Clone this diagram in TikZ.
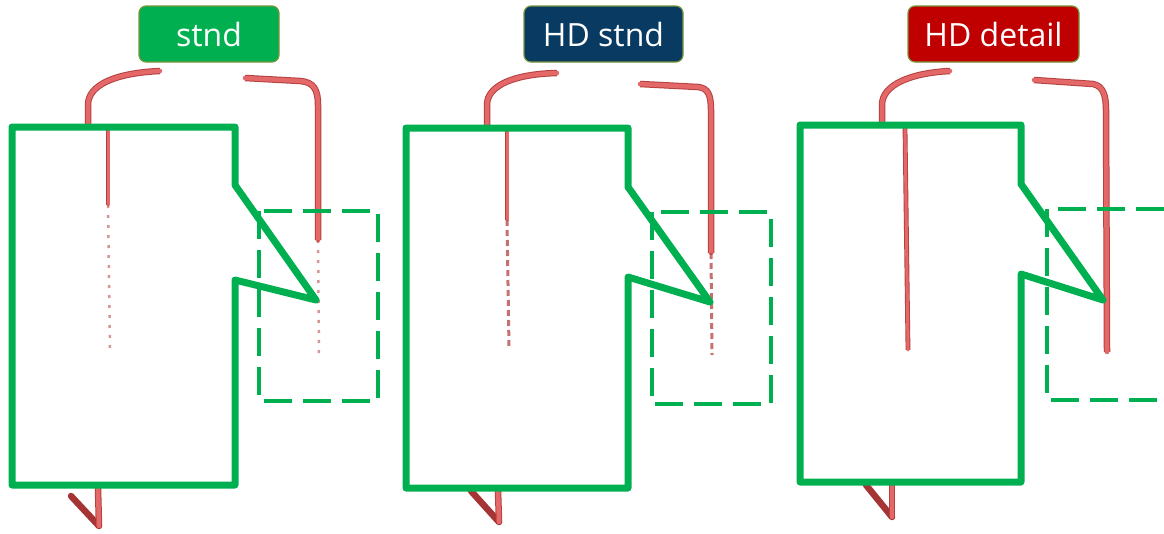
\documentclass[tikz,border=0pt]{standalone}
\usepackage{fontspec}
\setmainfont{Open Sans}
\definecolor{gr}{RGB}{0,176,80}
\definecolor{wlight}{RGB}{228,104,104}
\definecolor{wdark}{RGB}{180,64,64}
\definecolor{hook}{RGB}{165,52,52}
\definecolor{olv}{RGB}{120,150,60}
\definecolor{tgreen}{RGB}{0,176,80}
\definecolor{tnavy}{RGB}{8,58,98}
\definecolor{tred}{RGB}{192,0,0}
\tikzset{
  gbox/.style={draw=gr, line width=7pt, line join=round},
  dbox/.style={draw=gr, line width=3.5pt, dash pattern=on 28pt off 11pt},
  wire/.style={line cap=round, line join=round, draw=wlight, line width=4.5pt,
               preaction={draw=wdark, line width=6.5pt}},
  iwire/.style={line cap=round, draw=wlight, line width=3pt,
               preaction={draw=wdark, line width=4.8pt}},
  hookwire/.style={line cap=round, draw=hook, line width=6.5pt},
  wdots/.style={draw=wdark, line width=2.5pt, dash pattern=on 3pt off 7pt, opacity=0.55},
  wdash/.style={draw=wdark, line width=3pt, dash pattern=on 6pt off 4pt, opacity=0.75},
  tag/.style={rounded corners=7pt, draw=olv, line width=1.2pt, text=white,
              font=\fontsize{32}{32}\selectfont, minimum height=56pt, inner sep=0pt}
}
\begin{document}
\begin{tikzpicture}[x=1pt,y=-1pt]
\useasboundingbox (0,0) rectangle (1164,533);

% ---------- Panel 1 (stnd) ----------
\coordinate (a1) at (160,71);
\coordinate (a2) at (88,128);
\draw[wire] (a1) .. controls (115,73) and (88,85) .. (88,105) -- (a2);
\coordinate (b1) at (245,78);
\coordinate (b2) at (318,240);
\coordinate (b3) at (319,358);
\draw[wire] (b1) -- (300,81) .. controls (314,82) and (318,90) .. (318,105) -- (b2);
\draw[wdots] (b2) -- (b3);
\coordinate (c1) at (108,130);
\coordinate (c2) at (108,205);
\coordinate (c3) at (110,350);
\draw[iwire] (c1) -- (c2);
\draw[wdots] (c2) -- (c3);
\coordinate (h1) at (98,488);
\coordinate (h2) at (99,526);
\coordinate (h3) at (71,496);
\draw[hookwire] (h3) -- (h2);
\draw[wire] (h1) -- (h2);

\draw[gbox] (12,127) -- (235,127) -- (235,185) -- (316,300) -- (235,280) -- (235,485) -- (12,485) -- cycle;
\draw[dbox] (259,211) rectangle (378,401);
\node[tag, fill=tgreen, minimum width=140pt] (t1) at (209,34) {stnd};

% ---------- Panel 2 (HD stnd) ----------
\coordinate (d1) at (557,73);
\coordinate (d2) at (487,128);
\draw[wire] (d1) .. controls (515,74) and (487,85) .. (487,105) -- (d2);
\coordinate (e1) at (640,84);
\coordinate (e2) at (711,253);
\coordinate (e3) at (712,355);
\draw[wire] (e1) -- (698,87) .. controls (708,88) and (711,95) .. (711,110) -- (e2);
\draw[wdash] (e2) -- (e3);
\coordinate (f1) at (507,130);
\coordinate (f2) at (507,220);
\coordinate (f3) at (509,348);
\draw[iwire] (f1) -- (f2);
\draw[wdash] (f2) -- (f3);
\coordinate (k1) at (498,490);
\coordinate (k2) at (499,522);
\coordinate (k3) at (471,491);
\draw[hookwire] (k3) -- (k2);
\draw[wire] (k1) -- (k2);

\draw[gbox] (406,128) -- (628,128) -- (628,187) -- (710,302) -- (628,277) -- (628,488) -- (406,488) -- cycle;
\draw[dbox] (652,212) rectangle (771,404);
\node[tag, fill=tnavy, minimum width=159pt] (t2) at (603.5,34) {HD stnd};

% ---------- Panel 3 (HD detail) ----------
\coordinate (g1) at (950,71);
\coordinate (g2) at (882,126);
\draw[wire] (g1) .. controls (910,73) and (882,85) .. (882,105) -- (g2);
\coordinate (m1) at (1034,80);
\coordinate (m2) at (1107,352);
\draw[wire] (m1) -- (1093,84) .. controls (1103,86) and (1106,95) .. (1106,110) -- (m2);
\coordinate (n1) at (905,128);
\coordinate (n2) at (908,350);
\draw[iwire] (n1) -- (n2);
\coordinate (q1) at (892,482);
\coordinate (q2) at (892,517);
\coordinate (q3) at (866,485);
\draw[hookwire] (q3) -- (q2);
\draw[wire] (q1) -- (q2);

\draw[gbox] (800,125) -- (1021,125) -- (1021,184) -- (1103,300) -- (1021,274) -- (1021,482) -- (800,482) -- cycle;
\draw[dbox] (1164,209) -- (1047,209) -- (1047,400) -- (1164,400);
\node[tag, fill=tred, minimum width=171pt] (t3) at (993.5,34) {HD detail};
\end{tikzpicture}
\end{document}
